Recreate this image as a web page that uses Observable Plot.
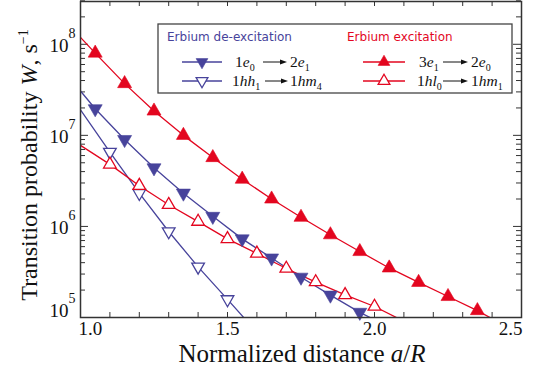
<!DOCTYPE html>
<html><head><meta charset="utf-8">
<script src="https://cdn.jsdelivr.net/npm/d3@7"></script>
<script src="https://cdn.jsdelivr.net/npm/@observablehq/plot@0.6"></script>
<style>body{margin:0;background:#fff} svg{display:block}</style>
</head><body><div id="chart"></div>
<script>
// ---------- data ----------
// Erbium de-excitation: 1e0 -> 2e1 (filled down triangles)
const deexFilledX = [1.05, 1.15, 1.25, 1.35, 1.45, 1.55, 1.65, 1.75, 1.85, 1.95];
const deexFilledW = [1.96e7, 9.0e6, 4.4e6, 2.32e6, 1.29e6, 7.3e5, 4.5e5, 2.77e5, 1.76e5, 1.14e5];
const deexFilledEnds = [[1.0, 3.07e7], [1.99, 0.98e5]];
// Erbium de-excitation: 1hh1 -> 1hm4 (open down triangles)
const deexOpenX = [1.1, 1.2, 1.3, 1.4, 1.5];
const deexOpenW = [6.55e6, 2.32e6, 8.8e5, 3.6e5, 1.58e5];
const deexOpenEnds = [[1.0, 1.91e7], [1.56, 0.96e5]];
// Erbium excitation: 3e1 -> 2e0 (filled up triangles)
const excFilledX = [1.05, 1.15, 1.25, 1.35, 1.45, 1.55, 1.65, 1.75, 1.85, 1.95, 2.05, 2.15, 2.25, 2.35];
const excFilledW = [8.0e7, 3.7e7, 1.85e7, 1.0e7, 5.7e6, 3.3e6, 2.0e6, 1.26e6, 8.1e5, 5.3e5, 3.5e5, 2.43e5, 1.70e5, 1.19e5];
const excFilledEnds = [[1.0, 1.19e8], [2.40, 0.97e5]];
// Erbium excitation: 1hl0 -> 1hm1 (open up triangles)
const excOpenX = [1.1, 1.2, 1.3, 1.4, 1.5, 1.6, 1.7, 1.8, 1.9, 2.0];
const excOpenW = [4.8e6, 2.8e6, 1.73e6, 1.13e6, 7.3e5, 5.05e5, 3.45e5, 2.45e5, 1.77e5, 1.32e5];
const excOpenEnds = [[1.0, 7.77e6], [2.08, 0.98e5]];

// ticks
const xTicks = [1.0, 1.1, 1.2, 1.3, 1.4, 1.5, 1.6, 1.7, 1.8, 1.9, 2.0, 2.1, 2.2, 2.3, 2.4, 2.5];
const xTickLabels = ["1.0", "1.5", "2.0", "2.5"];
const yMajor = [1e5, 1e6, 1e7, 1e8];
const yExponents = ["5", "6", "7", "8"];

// ---------- layout ----------
const BLUE = "#47439b", RED = "#e3061f", AX = "#333";
const width = 539, height = 373, mL = 80, mR = 18, mT = 1, mB = 56;
const pw = width - mL - mR, ph = height - mT - mB;

const yMinor = [];
for (const d of [1e5, 1e6, 1e7, 1e8]) for (let k = 2; k <= 9; k++) if (d * k <= 3e8) yMinor.push(d * k);

const triUp = {draw(ctx, size) {const y = -Math.sqrt(size / (3 * Math.sqrt(3))); ctx.moveTo(0, 2 * y); ctx.lineTo(-Math.sqrt(3) * y, -y); ctx.lineTo(Math.sqrt(3) * y, -y); ctx.closePath();}};
const triDown = {draw(ctx, size) {const y = Math.sqrt(size / (3 * Math.sqrt(3))); ctx.moveTo(0, 2 * y); ctx.lineTo(-Math.sqrt(3) * y, -y); ctx.lineTo(Math.sqrt(3) * y, -y); ctx.closePath();}};

function pts(xs, ws) { return xs.map((x, i) => ({x, w: ws[i]})); }
function linePts(xs, ws, ends) { return [{x: ends[0][0], w: ends[0][1]}, ...pts(xs, ws), {x: ends[1][0], w: ends[1][1]}]; }

const series = [
  {x: deexFilledX, w: deexFilledW, ends: deexFilledEnds, color: BLUE, sym: triDown, filled: true},
  {x: deexOpenX, w: deexOpenW, ends: deexOpenEnds, color: BLUE, sym: triDown, filled: false},
  {x: excOpenX, w: excOpenW, ends: excOpenEnds, color: RED, sym: triUp, filled: false},
  {x: excFilledX, w: excFilledW, ends: excFilledEnds, color: RED, sym: triUp, filled: true}
];

const marks = [];
for (const s of series) {
  marks.push(Plot.line(linePts(s.x, s.w, s.ends), {x: "x", y: "w", stroke: s.color, strokeWidth: 1.3, clip: true}));
}
for (const s of series) {
  marks.push(Plot.dot(pts(s.x, s.w), {x: "x", y: "w", symbol: s.sym, r: s.filled ? 5.2 : 4.7,
    fill: s.filled ? s.color : "white", stroke: s.color, strokeWidth: s.filled ? 0.6 : 1.3}));
}

const chart = Plot.plot({
  width, height, marginLeft: mL, marginRight: mR, marginTop: mT, marginBottom: mB,
  style: {fontFamily: "Liberation Serif", background: "white", color: "#222", overflow: "visible"},
  x: {domain: [1.0, 2.5], axis: null},
  y: {type: "log", domain: [1e5, 2.95e8], axis: null},
  marks: [
    // ticks (inward, all four sides)
    Plot.ruleX(xTicks, {x: d => d, insetTop: ph - 5, stroke: AX, strokeWidth: 1}),
    Plot.ruleX(xTicks, {x: d => d, insetBottom: ph - 5, stroke: AX, strokeWidth: 1}),
    Plot.ruleY(yMajor, {y: d => d, insetRight: pw - 8, stroke: AX, strokeWidth: 1}),
    Plot.ruleY(yMajor, {y: d => d, insetLeft: pw - 8, stroke: AX, strokeWidth: 1}),
    Plot.ruleY(yMinor, {y: d => d, insetRight: pw - 5, stroke: AX, strokeWidth: 1}),
    Plot.ruleY(yMinor, {y: d => d, insetLeft: pw - 5, stroke: AX, strokeWidth: 1}),
    ...marks,
    Plot.frame({stroke: AX, strokeWidth: 1.5}),
    // x tick labels
    Plot.text([xTickLabels[0]], {x: d => +d, text: d => d, frameAnchor: "bottom", dy: 17, dx: -2, textAnchor: "start", fontSize: 19, fill: "#111"}),
    Plot.text(xTickLabels.slice(1, 3), {x: d => +d, text: d => d, frameAnchor: "bottom", dy: 17, textAnchor: "middle", fontSize: 19, fill: "#111"}),
    Plot.text([xTickLabels[3]], {x: d => +d, text: d => d, frameAnchor: "bottom", dy: 17, dx: 1, textAnchor: "end", fontSize: 19, fill: "#111"}),
    // y tick labels
    Plot.text(yMajor.slice(1), {y: d => d, text: () => "10", frameAnchor: "left", dx: -12, dy: 1.5, textAnchor: "end", fontSize: 19, fill: "#111"}),
    Plot.text(yMajor.slice(1), {y: d => d, text: (d, i) => yExponents[i + 1], frameAnchor: "left", dx: -12, dy: -11, textAnchor: "start", fontSize: 14, fill: "#111"}),
    Plot.text(yMajor.slice(0, 1), {y: d => d, text: () => "10", frameAnchor: "left", dx: -12, dy: -7, textAnchor: "end", fontSize: 19, fill: "#111"}),
    Plot.text(yMajor.slice(0, 1), {y: d => d, text: () => yExponents[0], frameAnchor: "left", dx: -12, dy: -19, textAnchor: "start", fontSize: 14, fill: "#111"})
  ]
});
document.getElementById("chart").appendChild(chart);

const svg = d3.select(chart);

// axis titles
const yt = svg.append("text").attr("transform", "translate(37,165) rotate(-90)").attr("text-anchor", "middle")
  .attr("fill", "#111").style("font-family", "Liberation Serif").style("font-size", "24px");
yt.append("tspan").text("Transition probability ");
yt.append("tspan").style("font-style", "italic").text("W");
yt.append("tspan").text(", s");
yt.append("tspan").attr("dy", -9).style("font-size", "14px").text("\u22121");

const xt = svg.append("text").attr("x", 302).attr("y", 362).attr("text-anchor", "middle")
  .attr("fill", "#111").style("font-family", "Liberation Serif").style("font-size", "25px");
xt.append("tspan").text("Normalized distance ");
xt.append("tspan").style("font-style", "italic").text("a");
xt.append("tspan").text("/");
xt.append("tspan").style("font-style", "italic").text("R");

// legend
const lg = svg.append("g").attr("text-anchor", "start");
lg.append("rect").attr("x", 158).attr("y", 24).attr("width", 354).attr("height", 69)
  .attr("fill", "white").attr("stroke", "#444").attr("stroke-width", 1.3);
lg.append("text").attr("x", 167).attr("y", 41).attr("fill", BLUE).attr("text-anchor", "start")
  .style("font-family", "DejaVu Sans").style("font-size", "12px").text("Erbium de-excitation");
lg.append("text").attr("x", 347).attr("y", 41).attr("fill", RED).attr("text-anchor", "start")
  .style("font-family", "DejaVu Sans").style("font-size", "12px").text("Erbium excitation");

function mathText(x, y, parts) {
  const t = lg.append("text").attr("x", x).attr("y", y).attr("fill", "#111").attr("text-anchor", "start")
    .style("font-family", "Liberation Serif").style("font-size", "15.5px");
  let sub = false;
  for (const [s, kind] of parts) {
    const ts = t.append("tspan").text(s);
    if (kind === "i") ts.style("font-style", "italic");
    if (kind === "s") { ts.attr("dy", 4).style("font-size", "10px"); sub = true; }
    else if (sub) { ts.attr("dy", -4); sub = false; }
  }
}
function arrow(x1, x2, y) {
  lg.append("line").attr("x1", x1).attr("x2", x2 - 5).attr("y1", y).attr("y2", y).attr("stroke", "#111").attr("stroke-width", 1);
  lg.append("path").attr("d", `M${x2},${y} L${x2 - 7},${y - 2.6} L${x2 - 7},${y + 2.6} Z`).attr("fill", "#111");
}
function legSym(x1, x2, y, color, sym, filled) {
  lg.append("line").attr("x1", x1).attr("x2", x2).attr("y1", y).attr("y2", y).attr("stroke", color).attr("stroke-width", 1.3);
  lg.append("path").attr("transform", `translate(${(x1 + x2) / 2},${y})`)
    .attr("d", d3.symbol(sym, 60)())
    .attr("fill", filled ? color : "white").attr("stroke", color).attr("stroke-width", filled ? 0.6 : 1.3);
}
legSym(182, 222, 62, BLUE, triDown, true);
legSym(182, 222, 81, BLUE, triDown, false);
legSym(363, 405, 62, RED, triUp, true);
legSym(363, 405, 81, RED, triUp, false);

mathText(235, 67, [["1", "n"], ["e", "i"], ["0", "s"]]);
arrow(263, 287, 62);
mathText(290, 67, [["2", "n"], ["e", "i"], ["1", "s"]]);
mathText(232, 86, [["1", "n"], ["hh", "i"], ["1", "s"]]);
arrow(265, 288, 81);
mathText(290, 86, [["1", "n"], ["hm", "i"], ["4", "s"]]);
mathText(419, 67, [["3", "n"], ["e", "i"], ["1", "s"]]);
arrow(443, 468, 62);
mathText(471, 67, [["2", "n"], ["e", "i"], ["0", "s"]]);
mathText(417, 86, [["1", "n"], ["hl", "i"], ["0", "s"]]);
arrow(443, 468, 81);
mathText(471, 86, [["1", "n"], ["hm", "i"], ["1", "s"]]);
</script>
</body></html>
